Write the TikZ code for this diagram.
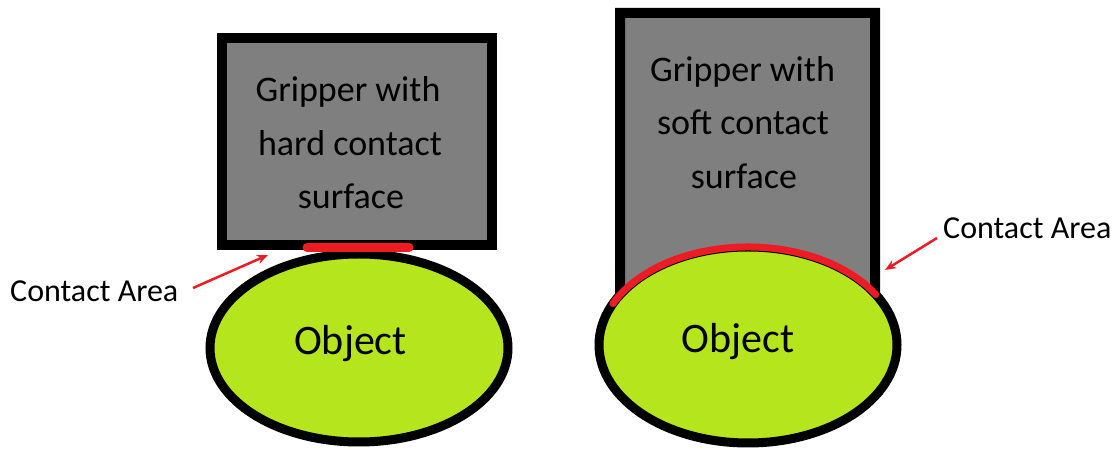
\documentclass[tikz,border=0pt]{standalone}
\usepackage{fontspec}
\setmainfont{Carlito}
\usetikzlibrary{shapes.geometric,arrows.meta,calc}
\definecolor{grip}{RGB}{127,127,127}
\definecolor{lime}{RGB}{181,230,29}
\definecolor{cred}{RGB}{237,28,36}
\tikzset{
  gripbox/.style={fill=grip,draw=black,line width=10pt},
  objshape/.style={ellipse,fill=lime,draw=black,line width=9pt,inner sep=0pt,
    minimum width=298pt},
  griptext/.style={anchor=base,inner sep=0pt,font=\fontsize{36}{43}\selectfont},
  objtext/.style={anchor=base,inner sep=0pt,font=\fontsize{42}{50}\selectfont},
  labeltext/.style={anchor=base west,inner sep=0pt,font=\fontsize{32}{38}\selectfont},
  contact/.style={draw=cred,line width=9pt,line cap=round},
  pointer/.style={draw=cred,line width=2.5pt,-{Stealth[length=11pt,width=9pt]}}
}
\begin{document}
\begin{tikzpicture}[x=1pt,y=1pt]
\useasboundingbox (0,0) rectangle (1120,450);
% ---------- left: hard contact ----------
\node[gripbox,minimum width=270pt,minimum height=207pt,inner sep=0pt] (grip1) at (357,308.5) {};
\node[objshape,minimum height=188pt] (obj1) at (359,102) {};
\coordinate (c1a) at (307,202.5);
\coordinate (c1b) at (409,202.5);
\draw[contact] (c1a) -- (c1b);
\node[griptext] (g1a) at (348,348) {Gripper with};
\node[griptext] (g1b) at (350,294.5) {hard contact};
\node[griptext] (g1c) at (351,241) {surface};
\node[objtext] (o1) at (350.5,95) {Object};
\node[labeltext] (lab1) at (10,148) {Contact Area};
\coordinate (la1) at (193,162);
\coordinate (la2) at (268,195);
\draw[pointer] (la1) -- (la2);
% ---------- right: soft contact ----------
\node[objshape,minimum height=196pt] (obj2) at (748,105) {};
\coordinate (gl) at ($(obj2.center)+(149.2:149pt and 98pt)$);
\coordinate (gr) at ($(obj2.center)+(31.5:149pt and 98pt)$);
\coordinate (gtl) at (620,437);
\coordinate (gtr) at (875,437);
\fill[grip] (gtl) -- (gtr) -- (gr)
  arc[start angle=31.5,end angle=149.2,x radius=149pt,y radius=98pt] -- cycle;
\draw[black,line width=10pt] (gl) -- (gtl) -- (gtr) -- (gr);
\coordinate (c2a) at ($(obj2.center)+(155:149pt and 98pt)$);
\draw[draw=cred,line width=7pt,line cap=round] (c2a)
  arc[start angle=155,end angle=31,x radius=149pt,y radius=98pt];
\node[griptext] (g2a) at (742.5,368.3) {Gripper with};
\node[griptext] (g2b) at (743,315) {soft contact};
\node[griptext] (g2c) at (744,261.5) {surface};
\node[objtext] (o2) at (738,97) {Object};
\node[labeltext] (lab2) at (943,211) {Contact Area};
\coordinate (ra1) at (937,212);
\coordinate (ra2) at (885,180);
\draw[pointer] (ra1) -- (ra2);
\end{tikzpicture}
\end{document}
